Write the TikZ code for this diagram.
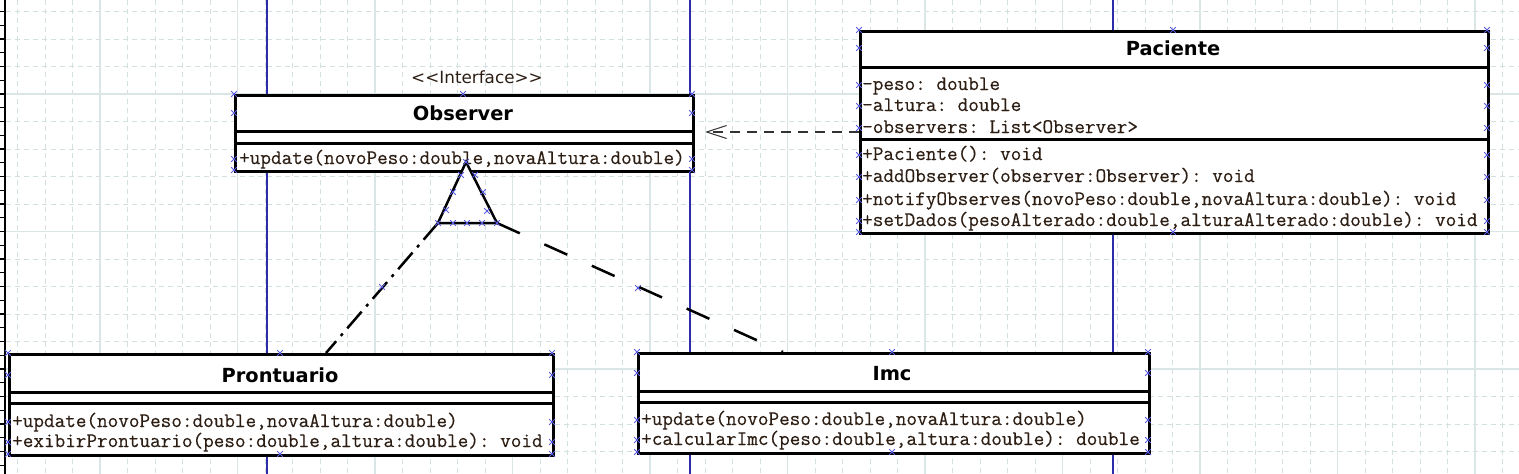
\documentclass[tikz,border=0pt]{standalone}
\usepackage{fontspec}
\newfontfamily\monofont{Latin Modern Mono}[FakeBold=0.4]
\newfontfamily\titlefont{DejaVu Sans}
\usetikzlibrary{arrows.meta}
\definecolor{gridminor}{RGB}{210,224,224}
\definecolor{gridmajor}{RGB}{218,230,230}
\definecolor{pageblue}{RGB}{45,45,170}
\definecolor{handlec}{RGB}{90,90,225}
\definecolor{txt}{RGB}{45,30,20}
\newcommand\hx[1]{\draw[handle] #1 +(-2.8,-2.8) -- +(2.8,2.8) #1 +(-2.8,2.8) -- +(2.8,-2.8);}
\frenchspacing
\begin{document}
\begin{tikzpicture}[x=1pt,y=-1pt,
  classbox/.style={draw=black,line width=3pt,fill=white,inner sep=0pt,anchor=north west},
  sepline/.style={line width=3pt},
  ctitle/.style={font=\titlefont\bfseries\fontsize{19.4}{19}\selectfont,anchor=base,inner sep=0pt},
  stereo/.style={font=\titlefont\fontsize{16.8}{16}\selectfont,anchor=base,inner sep=0pt,text=txt},
  mrow/.style={font=\monofont\frenchspacing\fontsize{20.6}{20}\selectfont,text=txt,anchor=base west,inner sep=0pt},
  handle/.style={draw=handlec,line width=0.9pt},
  depline/.style={draw=black!80,line width=1.4pt,dash pattern=on 10pt off 7pt,
     -{Straight Barb[length=20pt,width=13pt,line width=1pt]}},
  realleft/.style={line width=2.5pt,dash pattern=on 22pt off 7pt on 3pt off 7pt},
  realright/.style={line width=2.5pt,dash pattern=on 25pt off 27pt},
  tri/.style={line width=2.5pt,fill=white,line join=miter}
]
\useasboundingbox (0,0) rectangle (1519,474);
\fill[white] (0,0) rectangle (1519,474);
% grid
\foreach \k in {0,...,54}{
  \draw[gridminor,line width=1pt,dash pattern=on 5pt off 4pt] ({17.5+27.5*\k},0) -- ({17.5+27.5*\k},474);}
\foreach \k in {0,...,16}{
  \draw[gridminor,line width=1pt,dash pattern=on 5pt off 4pt] (6,{11.5+27.5*\k}) -- (1519,{11.5+27.5*\k});}
\foreach \k in {0,...,10}{
  \draw[gridmajor,line width=1.2pt] ({100+137.5*\k},0) -- ({100+137.5*\k},474);}
\foreach \k in {0,1,2}{
  \draw[gridmajor,line width=1.2pt] (6,{94+137.5*\k}) -- (1519,{94+137.5*\k});}
% ruler
\draw[black,line width=2pt] (4.5,0) -- (4.5,474);
\foreach \k in {0,...,33}{ \draw[black,line width=1.2pt] (0,{11.5+13.75*\k}) -- (4.5,{11.5+13.75*\k}); }
% page boundaries
\foreach \xx in {267,690,1113}{ \draw[pageblue,line width=1.3pt] (\xx,0) -- (\xx,474); }

% ---- Observer
\node[stereo] (obsS) at (477,83) {<\kern0pt<Interface>\kern0pt>};
\node[classbox,minimum width=458pt,minimum height=76pt] (obs) at (234,94) {};
\draw[sepline] (234,131.7) -- (692,131.7);
\draw[sepline] (234,143.3) -- (692,143.3);
\node[ctitle] (obsT) at (463,120) {Observer};
\node[mrow] (obsM1) at (239,164) {+update(novoPeso:double,novaAltura:double)};

% ---- Paciente
\node[classbox,minimum width=628pt,minimum height=202pt] (pac) at (859,30) {};
\draw[sepline] (859,67.5) -- (1487,67.5);
\draw[sepline] (859,139.5) -- (1487,139.5);
\node[ctitle] (pacT) at (1173,55) {Paciente};
\node[mrow] (pacA1) at (862,90) {-peso: double};
\node[mrow] (pacA2) at (862,111) {-altura: double};
\node[mrow] (pacA3) at (862,133) {-observers: List<Observer>};
\node[mrow] (pacM1) at (862,160) {+Paciente(): void};
\node[mrow] (pacM2) at (862,182) {+addObserver(observer:Observer): void};
\node[mrow] (pacM3) at (862,205) {+notifyObserves(novoPeso:double,novaAltura:double): void};
\node[mrow] (pacM4) at (862,226) {+setDados(pesoAlterado:double,alturaAlterado:double): void};

% ---- Prontuario
\node[classbox,minimum width=544pt,minimum height=101pt] (pro) at (8,353) {};
\draw[sepline] (8,392) -- (552,392);
\draw[sepline] (8,403) -- (552,403);
\node[ctitle] (proT) at (280,382) {Prontuario};
\node[mrow] (proM1) at (12,427) {+update(novoPeso:double,novaAltura:double)};
\node[mrow] (proM2) at (12,447) {+exibirProntuario(peso:double,altura:double): void};

% ---- Imc
\node[classbox,minimum width=511pt,minimum height=100pt] (imc) at (637,352) {};
\draw[sepline] (637,391.7) -- (1148,391.7);
\draw[sepline] (637,402) -- (1148,402);
\node[ctitle] (imcT) at (892,380) {Imc};
\node[mrow] (imcM1) at (641,425) {+update(novoPeso:double,novaAltura:double)};
\node[mrow] (imcM2) at (641,445) {+calcularImc(peso:double,altura:double): double};

% ---- connectors
\coordinate (depY) at (0,132);
\draw[depline] (pac.west |- depY) -- ([xshift=10pt]obs.east |- depY);

\coordinate (tA) at (466,162);
\coordinate (tL) at (438,223);
\coordinate (tR) at (497,223);
\coordinate (proC) at (326,0);
\coordinate (imcC) at (783,0);
\draw[realleft] (tL) -- (pro.north -| proC);
\draw[realright] (tR) -- (imc.north -| imcC);
\draw[tri] (tA) -- (tL) -- (tR) -- cycle;

% ---- handles
\foreach \p in {(234,94),(463,94),(692,94),(234,170),(692,170),(234,113),(692,113),(234,159),(692,159)}{\hx{\p}}
\foreach \yy in {48,85,106,128,155,177,200,221}{\hx{(859,\yy)}\hx{(1487,\yy)}}
\foreach \p in {(859,30),(1173,30),(1487,30),(859,232),(1173,232),(1487,232)}{\hx{\p}}
\foreach \yy in {375,422,442}{\hx{(8,\yy)}\hx{(552,\yy)}}
\foreach \p in {(8,353),(280,353),(552,353),(8,454),(280,454),(552,454)}{\hx{\p}}
\foreach \yy in {373,420,440}{\hx{(637,\yy)}\hx{(1148,\yy)}}
\foreach \p in {(637,352),(892,352),(1148,352),(637,452),(892,452),(1148,452)}{\hx{\p}}
\foreach \p in {(466,162),(438,223),(453,223),(467,223),(482,223),(497,223),(446,210),(453,192),(461,175),(475,175),(483,192),(487,211),(382,287),(638,288)}{\hx{\p}}
\end{tikzpicture}
\end{document}
